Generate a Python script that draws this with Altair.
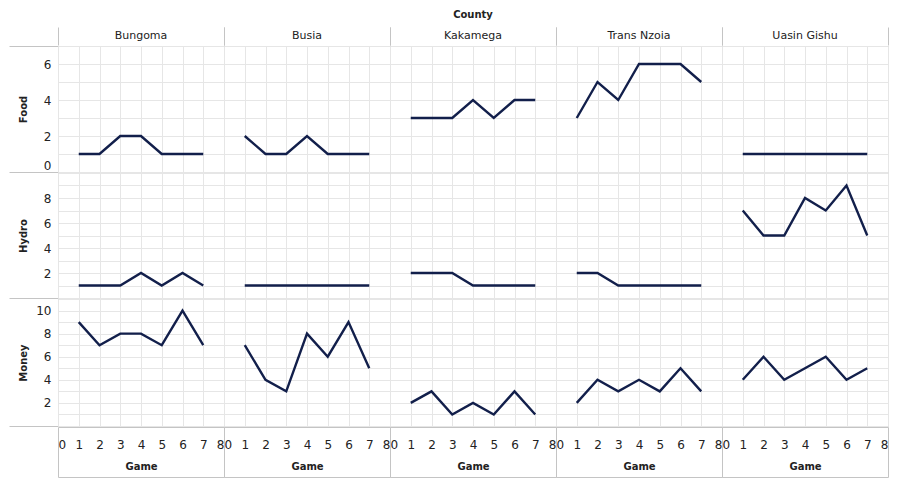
import altair as alt
import pandas as pd

COUNTIES = ["Bungoma", "Busia", "Kakamega", "Trans Nzoia", "Uasin Gishu"]
GAMES = [1, 2, 3, 4, 5, 6, 7]
X_TICKS = [0, 1, 2, 3, 4, 5, 6, 7, 8]

FOOD = [
    [1, 1, 2, 2, 1, 1, 1],
    [2, 1, 1, 2, 1, 1, 1],
    [3, 3, 3, 4, 3, 4, 4],
    [3, 5, 4, 6, 6, 6, 5],
    [1, 1, 1, 1, 1, 1, 1],
]
HYDRO = [
    [1, 1, 1, 2, 1, 2, 1],
    [1, 1, 1, 1, 1, 1, 1],
    [2, 2, 2, 1, 1, 1, 1],
    [2, 2, 1, 1, 1, 1, 1],
    [7, 5, 5, 8, 7, 9, 5],
]
MONEY = [
    [9, 7, 8, 8, 7, 10, 7],
    [7, 4, 3, 8, 6, 9, 5],
    [2, 3, 1, 2, 1, 3, 1],
    [2, 4, 3, 4, 3, 5, 3],
    [4, 6, 4, 5, 6, 4, 5],
]
FOOD_TICKS = [0, 1, 2, 3, 4, 5, 6, 7]
HYDRO_TICKS = [0, 1, 2, 3, 4, 5, 6, 7, 8, 9, 10]
MONEY_TICKS = [0, 1, 2, 3, 4, 5, 6, 7, 8, 9, 10, 11]

FONT = "DejaVu Sans"
TXT = "#222222"
GRID = "#e6e6e6"
BORDER = "#c4c4c4"
LINE = "#121f4b"
W = 166
GUTTER = 49


def make_df(values):
    rows = []
    for county, series in zip(COUNTIES, values):
        for g, v in zip(GAMES, series):
            rows.append({"County": county, "Game": g, "Value": v})
    return pd.DataFrame(rows)


def row_chart(name, values, ticks, label_expr, height, edge_test, flush=False):
    return (
        alt.Chart(make_df(values))
        .mark_line(color=LINE, strokeWidth=2.4)
        .encode(
            x=alt.X(
                "Game:Q",
                scale=alt.Scale(domain=[0, 8], nice=False),
                axis=alt.Axis(values=X_TICKS, labels=False, ticks=False, domain=False,
                              title=None, grid=True, gridColor=GRID),
            ),
            y=alt.Y(
                "Value:Q",
                scale=alt.Scale(domain=[ticks[0], ticks[-1]], nice=False),
                axis=alt.Axis(values=ticks, labelExpr=label_expr, title=name,
                              titleFontWeight="bold", titleFontSize=10, titleColor=TXT,
                              titlePadding=8, labelFontSize=12, labelColor=TXT,
                              labelPadding=7 - GUTTER, labelFlush=flush,
                              ticks=True, tickSize=GUTTER, tickColor=BORDER, tickWidth=1,
                              tickOpacity={"condition": {"test": edge_test, "value": 1},
                                           "value": 0},
                              domain=False, grid=True, gridColor=GRID,
                              minExtent=22, maxExtent=22),
            ),
            column=alt.Column("County:N", sort=COUNTIES, header=None, spacing=0),
        )
        .properties(width=W, height=height, bounds="flush")
    )


food = row_chart("Food", FOOD, FOOD_TICKS,
                 "datum.value % 2 == 0 && datum.value < 7 ? datum.label : ''", 126,
                 "datum.value == 0 || datum.value == 7", True)
hydro = row_chart("Hydro", HYDRO, HYDRO_TICKS,
                  "datum.value % 2 == 0 && datum.value > 0 && datum.value < 10 ? datum.label : ''",
                  125, "datum.value == 0")
money = row_chart("Money", MONEY, MONEY_TICKS,
                  "datum.value % 2 == 0 && datum.value > 0 ? datum.label : ''", 127,
                  "datum.value == 0")

header_df = pd.DataFrame({"County": COUNTIES, "pos": [0] * len(COUNTIES)})
header = (
    alt.Chart(header_df)
    .mark_text(fontSize=11, font=FONT, color=TXT)
    .encode(
        text="County:N",
        x=alt.X("pos:Q", scale=alt.Scale(domain=[-1, 1]),
                axis=alt.Axis(values=[-1, 1], labels=False, ticks=False, domain=False,
                              grid=True, gridColor=BORDER, title=None)),
        y=alt.Y("pos:Q", scale=alt.Scale(domain=[-1, 1]),
                axis=alt.Axis(labels=False, ticks=False, domain=False, grid=False,
                              title=None, minExtent=GUTTER, maxExtent=GUTTER)),
        column=alt.Column("County:N", sort=COUNTIES, spacing=0,
                          header=alt.Header(labels=False, title="County",
                                            titleFontWeight="bold", titleFontSize=10,
                                            titleFont=FONT, titleColor=TXT, titlePadding=-3)),
    )
    .properties(width=W, height=18, bounds="flush", view={"stroke": "transparent"})
)

BAND_H = 50
band = (
    alt.Chart(make_df(FOOD))
    .mark_line(opacity=0)
    .encode(
        x=alt.X(
            "Game:Q",
            scale=alt.Scale(domain=[0, 8], nice=False),
            axis=alt.Axis(values=X_TICKS, orient="bottom", offset=-BAND_H, grid=False,
                          ticks=False, domain=False, labelFontSize=12, labelColor=TXT,
                          labelPadding=12, title="Game", titleFontWeight="bold",
                          titleFontSize=10, titleColor=TXT, titlePadding=11),
        ),
        y=alt.Y("Value:Q",
                axis=alt.Axis(labels=False, ticks=False, domain=False, grid=False,
                              title=None, minExtent=GUTTER, maxExtent=GUTTER)),
        column=alt.Column("County:N", sort=COUNTIES, header=None, spacing=0),
    )
    .properties(width=W, height=BAND_H, bounds="flush")
)

chart = (
    alt.vconcat(header, food, hydro, money, band, spacing=-2)
    .properties(padding={"left": 0, "top": 2, "right": 0, "bottom": 0})
    .configure(font=FONT)
    .configure_view(stroke=BORDER, strokeWidth=1)
    .configure_facet(spacing=0)
)

chart.save("out.html", embed_options={"renderer": "svg", "actions": False})
